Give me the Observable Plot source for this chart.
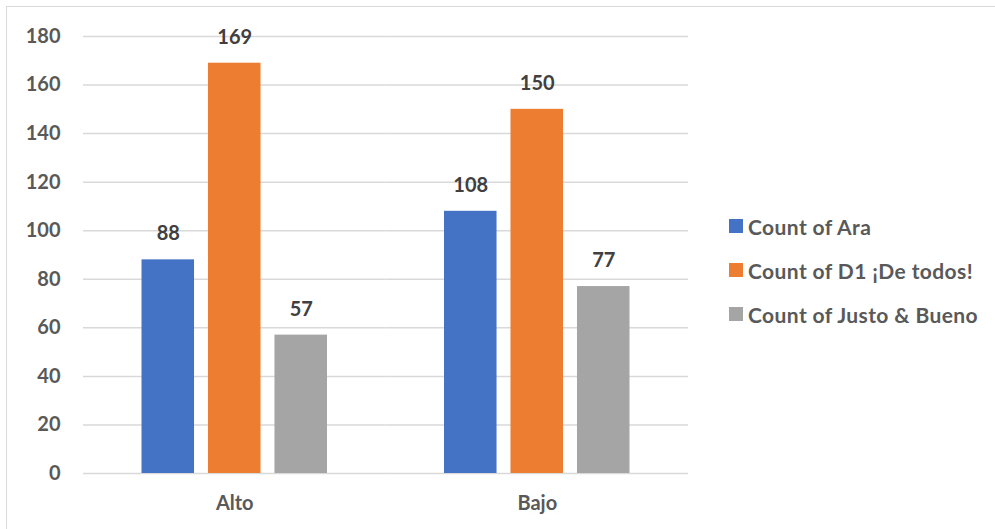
<!DOCTYPE html>
<html>
<head>
<meta charset="utf-8">
<script src="https://cdn.jsdelivr.net/npm/d3@7"></script>
<script src="https://cdn.jsdelivr.net/npm/@observablehq/plot@0.6"></script>
<style>
  html, body { margin: 0; padding: 0; background: #fff; }
  #wrap { position: relative; width: 995px; height: 529px; overflow: hidden; font-family: Lato, "Open Sans", sans-serif; }
  #border { position: absolute; left: 6px; top: 6px; width: 1000px; height: 540px; border: 1.5px solid #d9d9d9; box-sizing: border-box; pointer-events: none; }
  #legend { position: absolute; left: 729px; top: 0; }
  .item { position: absolute; left: 0; white-space: nowrap; display: flex; align-items: center; font-weight: 700; font-size: 21px; letter-spacing: 0.4px; color: #595959; }
  .sw { width: 14px; height: 14px; margin-right: 5px; flex: none; }
</style>
</head>
<body>
<div id="wrap">
  <div id="chart"></div>
  <div id="legend"></div>
  <div id="border"></div>
</div>
<script>
const categories = ["Alto", "Bajo"];
const seriesNames = ["Count of Ara", "Count of D1 ¡De todos!", "Count of Justo & Bueno"];
const seriesColors = ["#4472C4", "#ED7D31", "#A5A5A5"];
const araValues = [88, 108];
const d1Values = [169, 150];
const justoValues = [57, 77];
const yTicks = [0, 20, 40, 60, 80, 100, 120, 140, 160, 180];

const allValues = [araValues, d1Values, justoValues];
const data = [];
categories.forEach((c, i) => {
  seriesNames.forEach((s, j) => {
    data.push({cat: c, series: s, value: allValues[j][i]});
  });
});

const chart = Plot.plot({
  width: 995,
  height: 529,
  marginLeft: 83,
  marginRight: 307,
  marginTop: 36,
  marginBottom: 56,
  style: {fontFamily: "Lato, 'Open Sans', sans-serif", fontSize: "20px", fontWeight: 700, color: "#595959", background: "transparent"},
  fx: {domain: categories, padding: 0, round: false, label: null, tickSize: 0, tickPadding: 22, axis: "bottom"},
  x: {domain: seriesNames, axis: null, round: false, paddingInner: 0.21, paddingOuter: 0.88},
  y: {domain: [0, 180], ticks: yTicks, label: null, tickSize: 0, tickPadding: 23},
  color: {domain: seriesNames, range: seriesColors},
  marks: [
    Plot.gridY(yTicks, {stroke: "#d9d9d9", strokeOpacity: 1, strokeWidth: 1.5}),
    Plot.barY(data, {fx: "cat", x: "series", y: "value", fill: "series"}),
    Plot.text(data, {fx: "cat", x: "series", y: "value", text: d => String(d.value), dy: -26, fill: "#404040", fontWeight: 700, fontSize: 20})
  ]
});
document.getElementById("chart").appendChild(chart);

const legend = document.getElementById("legend");
const legendTops = [226, 270, 314];
seriesNames.forEach((s, i) => {
  const it = document.createElement("div");
  it.className = "item";
  it.style.top = (legendTops[i] - 12) + "px";
  it.style.height = "24px";
  const sw = document.createElement("span");
  sw.className = "sw";
  sw.style.background = seriesColors[i];
  const tx = document.createElement("span");
  tx.textContent = s;
  it.appendChild(sw);
  it.appendChild(tx);
  legend.appendChild(it);
});
</script>
</body>
</html>
